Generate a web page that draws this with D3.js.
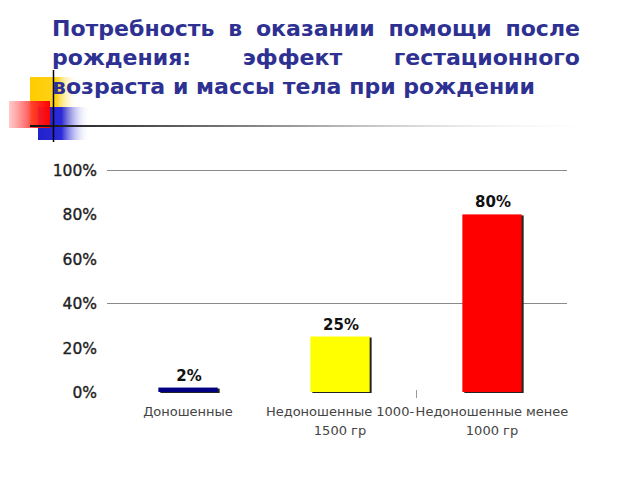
<!DOCTYPE html>
<html><head><meta charset="utf-8">
<script src="https://cdn.jsdelivr.net/npm/d3@7"></script>
<style>html,body{margin:0;padding:0;background:#fff;}</style>
</head><body>
<svg id="c" width="640" height="480"></svg>
<script>
const titleLines = ["Потребность в оказании помощи после", "рождения: эффект гестационного", "возраста и массы тела при рождении"];
const categories = ["Доношенные", "Недоношенные 1000-1500 гр", "Недоношенные менее 1000 гр"];
const categoryLines = [["Доношенные"], ["Недоношенные 1000-", "1500 гр"], ["Недоношенные менее", "1000 гр"]];
const values = [0.02, 0.25, 0.80];
const valueLabels = ["2%", "25%", "80%"];
const barColors = ["#000080", "#ffff00", "#ff0000"];
const yTicks = [0, 0.2, 0.4, 0.6, 0.8, 1.0];
const gridValues = [0.4, 1.0];

const svg = d3.select("#c");
const defs = svg.append("defs");
function lg(id, stops){ const g = defs.append("linearGradient").attr("id", id).attr("x1","0").attr("x2","1").attr("y1","0").attr("y2","0");
  stops.forEach(s => g.append("stop").attr("offset", s[0]).attr("stop-color", s[1]).attr("stop-opacity", s[2]==null?1:s[2])); }
lg("gy", [[0,"#ffcc00"],[0.55,"#ffd21a"],[1,"#ffffff",0]]);
lg("gr", [[0,"#ff6666",0.35],[0.6,"#ff2a2a",0.9],[1,"#ff0000"]]);
lg("gb", [[0,"#2222cc"],[0.45,"#2a2ad8"],[1,"#ffffff",0]]);
lg("gl", [[0,"#111111"],[0.45,"#999999"],[1,"#ffffff",0]]);

// decoration
svg.append("rect").attr("x",30).attr("y",77).attr("width",48).attr("height",48).attr("fill","url(#gy)");
svg.append("rect").attr("x",38).attr("y",107).attr("width",52).attr("height",33).attr("fill","url(#gb)");
svg.append("rect").attr("x",9).attr("y",101).attr("width",41).attr("height",27).attr("fill","url(#gr)");
svg.append("rect").attr("x",30).attr("y",125).attr("width",580).attr("height",2).attr("fill","url(#gl)");
svg.append("line").attr("x1",53.5).attr("x2",53.5).attr("y1",70).attr("y2",142).attr("stroke","#000").attr("stroke-width",1.5);

// title, justified
const tFont = "DejaVu Sans, Verdana, sans-serif";
const tX0 = 52, tX1 = 580;
// size chosen so that last line spans ~483px as in reference
const probe = svg.append("text").attr("font-family", tFont).attr("font-weight","bold").attr("font-size", 20).text(titleLines[2]);
const tSize = 20 * 483 / probe.node().getComputedTextLength();
probe.remove();
titleLines.forEach((line, i) => {
  const words = line.split(" ");
  const yy = 36 + i * 29;
  const g = svg.append("g");
  const ts = words.map(w => g.append("text").attr("y", yy).attr("font-family", tFont).attr("font-weight","bold")
     .attr("font-size", tSize).attr("fill", "#2e3192").text(w));
  const widths = ts.map(t => t.node().getComputedTextLength());
  const total = d3.sum(widths);
  const sp = tSize * 0.32;
  const gap = (i < titleLines.length - 1) ? (tX1 - tX0 - total) / (words.length - 1) : (483 - total) / (words.length - 1);
  let x = tX0;
  ts.forEach((t, k) => { t.attr("x", x); x += widths[k] + gap; });
});

// chart
const y = d3.scaleLinear().domain([0, 1]).range([392, 170]);
const x = d3.scaleBand().domain(categories).range([112, 568]).padding(0);
const bw = x.bandwidth() * 0.39;

svg.append("g").selectAll("line").data(gridValues).join("line")
  .attr("x1", 107).attr("x2", 567).attr("y1", d => Math.round(y(d)) + 0.5).attr("y2", d => Math.round(y(d)) + 0.5)
  .attr("stroke", "#8a8a8a").attr("stroke-width", 1);

const yAxis = d3.axisLeft(y).tickValues(yTicks).tickFormat(d3.format(".0%")).tickSize(0).tickPadding(0);
const ga = svg.append("g").attr("transform", "translate(97,0)").call(yAxis);
ga.select(".domain").remove();
ga.selectAll("text").attr("font-family", tFont).attr("font-size", 15.5).attr("fill", "#222")
  .attr("stroke", "#222").attr("stroke-width", 0.35).attr("dy", "0.35em");

// small tick between categories
svg.append("line").attr("x1", x(categories[2]) + 0.5).attr("x2", x(categories[2]) + 0.5)
  .attr("y1", 390).attr("y2", 398).attr("stroke", "#999");

const bars = svg.append("g").selectAll("g").data(values).join("g");
bars.append("rect").attr("x", (d,i) => x(categories[i]) + (x.bandwidth()-bw)/2 + 2).attr("y", d => y(d) + 1)
  .attr("width", bw).attr("height", d => y(0) - y(d)).attr("fill", "#222");
bars.append("rect").attr("x", (d,i) => x(categories[i]) + (x.bandwidth()-bw)/2).attr("y", d => y(d))
  .attr("width", bw).attr("height", d => y(0) - y(d)).attr("fill", (d,i) => barColors[i]);
bars.append("text").attr("x", (d,i) => x(categories[i]) + x.bandwidth()/2 + 1).attr("y", d => y(d) - 7)
  .attr("text-anchor", "middle").attr("font-family", tFont).attr("font-weight", "bold").attr("font-size", 15)
  .attr("fill", "#111").text((d,i) => valueLabels[i]);

// category labels
categoryLines.forEach((lines, i) => {
  lines.forEach((l, k) => {
    svg.append("text").attr("x", x(categories[i]) + x.bandwidth()/2).attr("y", 416 + k * 19)
      .attr("text-anchor", "middle").attr("font-family", tFont).attr("font-size", 13)
      .attr("fill", "#444").text(l);
  });
});
</script>
</body></html>
